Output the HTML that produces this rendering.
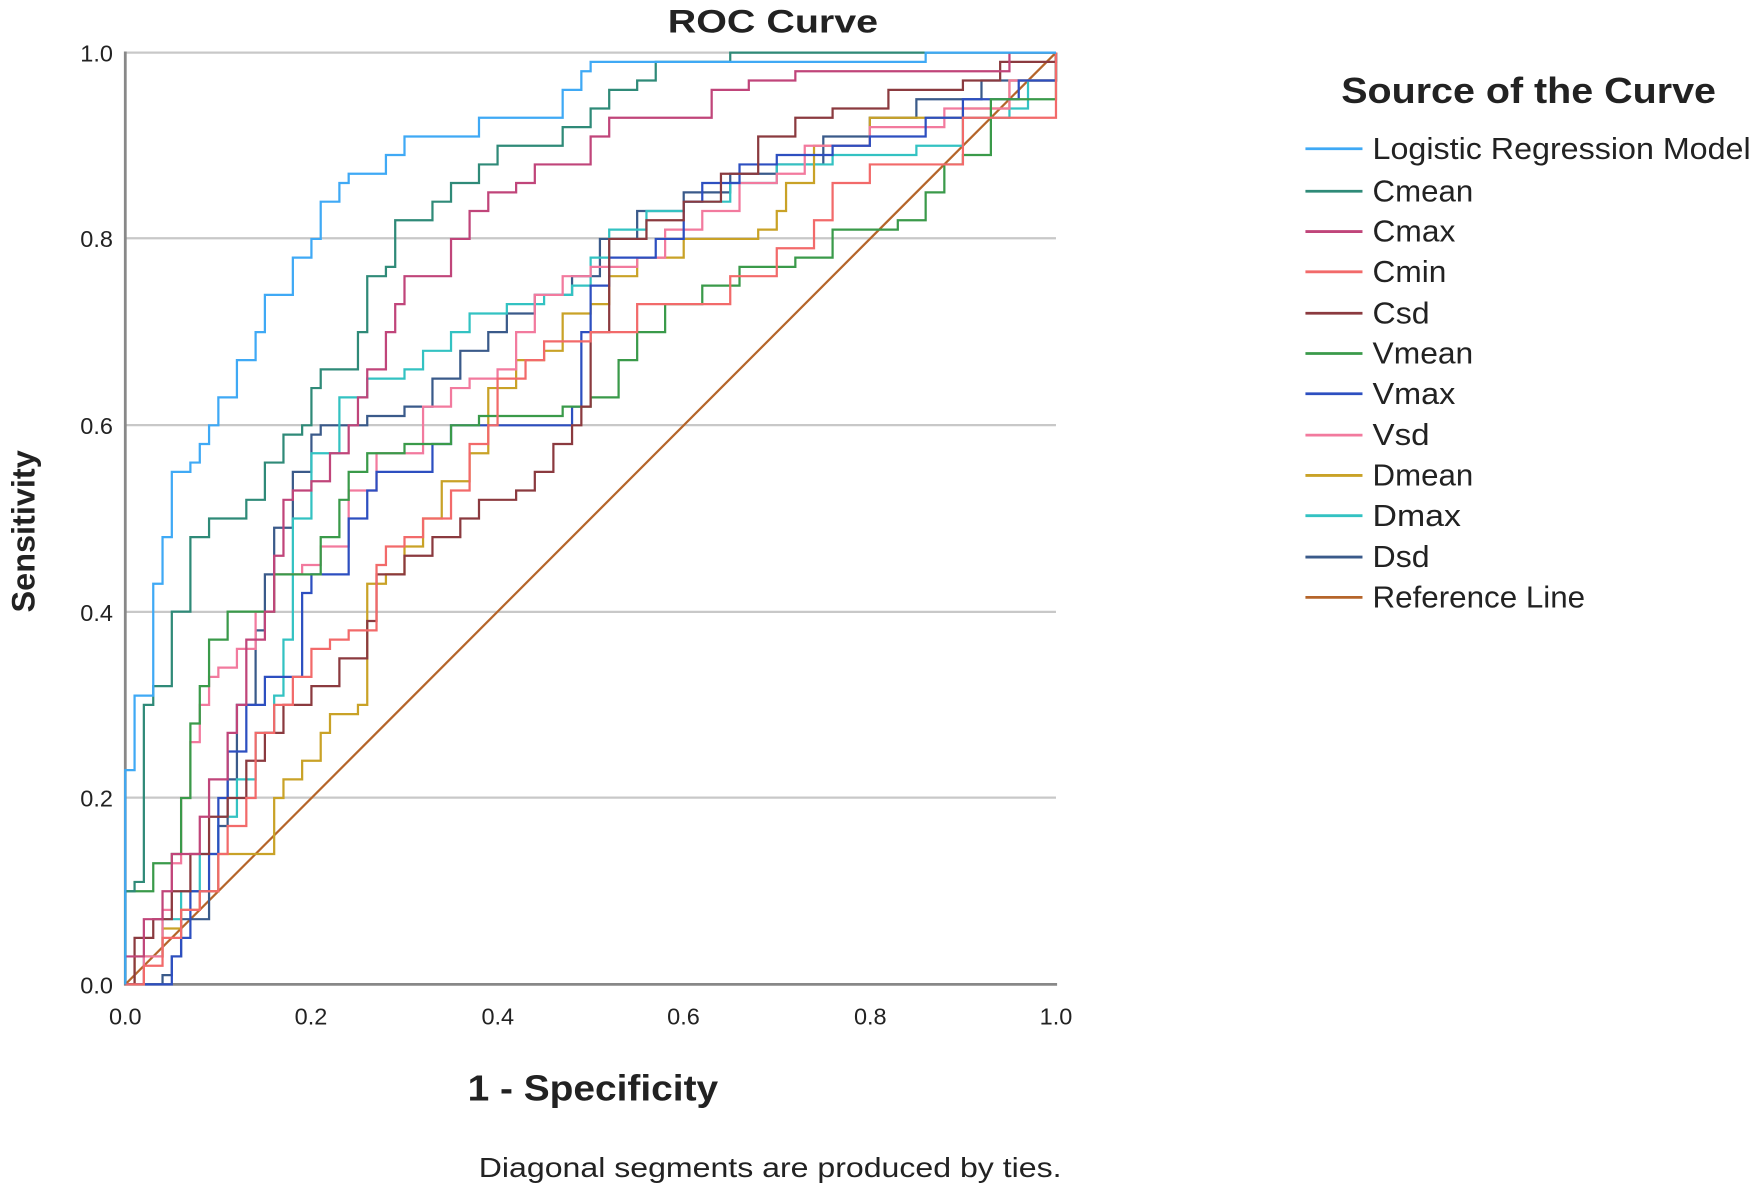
<!DOCTYPE html>
<html><head><meta charset="utf-8"><style>
html,body{margin:0;padding:0;background:#fff;}
svg{display:block;}
text{font-family:"Liberation Sans",Arial,sans-serif;fill:#222;}
</style></head><body>
<svg id="s" width="1754" height="1188" viewBox="0 0 1568 1062" preserveAspectRatio="none" xmlns="http://www.w3.org/2000/svg">
<rect width="1568" height="1062" fill="#fff"/>
<g stroke="#c8c8c8" stroke-width="2">
<line x1="112" y1="47" x2="944" y2="47"/>
<line x1="112" y1="213" x2="944" y2="213"/>
<line x1="112" y1="380" x2="944" y2="380"/>
<line x1="112" y1="547" x2="944" y2="547"/>
<line x1="112" y1="713" x2="944" y2="713"/>
</g>
<line x1="112" y1="46" x2="112" y2="881" stroke="#888" stroke-width="2.5"/>
<line x1="111" y1="880" x2="945" y2="880" stroke="#888" stroke-width="2.5"/>
<g font-size="21" text-anchor="end">
<text x="101" y="55">1.0</text><text x="101" y="221">0.8</text><text x="101" y="388">0.6</text>
<text x="101" y="555">0.4</text><text x="101" y="721">0.2</text><text x="101" y="888">0.0</text>
</g>
<g font-size="21" text-anchor="middle">
<text x="112" y="916">0.0</text><text x="278" y="916">0.2</text><text x="445" y="916">0.4</text>
<text x="611" y="916">0.6</text><text x="778" y="916">0.8</text><text x="944" y="916">1.0</text>
</g>
<text x="597" y="29" font-size="29" font-weight="bold" textLength="188" lengthAdjust="spacingAndGlyphs">ROC Curve</text>
<text x="418" y="984" font-size="32" font-weight="bold" textLength="224" lengthAdjust="spacingAndGlyphs">1 - Specificity</text>
<text transform="translate(31,475) rotate(-90)" font-size="29" font-weight="bold" text-anchor="middle">Sensitivity</text>
<text x="428" y="1052" font-size="25" textLength="521" lengthAdjust="spacingAndGlyphs">Diagonal segments are produced by ties.</text>
<text x="1199" y="92" font-size="32" font-weight="bold" textLength="335" lengthAdjust="spacingAndGlyphs">Source of the Curve</text>
<g id="curves" fill="none" stroke-width="2"></g>
<g id="legend" font-size="27"></g>
</svg>
<script>
var C=[
["Logistic Regression Model","#3fa9f5",[[0,0],[0,.23],[.01,.23],[.01,.31],[.03,.31],[.03,.43],[.04,.43],[.04,.48],[.05,.5],[.05,.55],[.07,.56],[.08,.58],[.09,.6],[.1,.63],[.12,.63],[.12,.67],[.14,.7],[.15,.74],[.17,.74],[.18,.78],[.2,.8],[.21,.84],[.23,.86],[.24,.87],[.27,.87],[.28,.89],[.29,.89],[.3,.91],[.36,.91],[.38,.93],[.45,.93],[.47,.96],[.49,.98],[.5,.99],[.86,.99],[.86,1],[1,1]]],
["Cmean","#2f8a78",[[0,0],[0,.1],[.01,.11],[.02,.3],[.03,.32],[.05,.33],[.05,.4],[.06,.4],[.07,.48],[.09,.48],[.09,.5],[.11,.5],[.13,.52],[.15,.56],[.17,.59],[.19,.6],[.2,.64],[.21,.66],[.23,.66],[.25,.7],[.26,.72],[.26,.76],[.28,.77],[.29,.82],[.32,.82],[.33,.84],[.35,.86],[.38,.88],[.4,.9],[.46,.9],[.47,.92],[.5,.94],[.52,.96],[.55,.97],[.57,.99],[.65,.99],[.65,1],[1,1]]],
["Cmax","#c0457a",[[0,0],[0,.03],[.01,.03],[.02,.07],[.04,.1],[.05,.14],[.07,.14],[.08,.18],[.09,.22],[.11,.27],[.12,.3],[.13,.37],[.15,.4],[.16,.46],[.17,.52],[.18,.53],[.2,.54],[.22,.57],[.24,.6],[.25,.63],[.26,.66],[.28,.7],[.29,.73],[.3,.76],[.34,.76],[.35,.8],[.37,.83],[.39,.85],[.42,.86],[.44,.88],[.48,.88],[.5,.91],[.52,.93],[.6,.93],[.63,.96],[.67,.97],[.72,.98],[.86,.98],[.95,1],[1,1]]],
["Cmin","#f26a6a",[[0,0],[.02,.02],[.04,.05],[.06,.08],[.08,.1],[.1,.14],[.11,.17],[.13,.2],[.14,.27],[.16,.3],[.18,.33],[.2,.36],[.22,.37],[.24,.38],[.26,.38],[.27,.45],[.28,.47],[.3,.48],[.32,.5],[.35,.53],[.37,.58],[.39,.6],[.4,.65],[.43,.67],[.45,.69],[.5,.7],[.55,.73],[.6,.73],[.65,.76],[.7,.79],[.74,.82],[.76,.86],[.8,.88],[.9,.93],[1,1]]],
["Csd","#8b3a3f",[[0,0],[.01,.05],[.03,.07],[.05,.1],[.07,.14],[.09,.18],[.11,.2],[.13,.24],[.15,.27],[.17,.3],[.2,.32],[.23,.35],[.26,.39],[.27,.44],[.3,.46],[.33,.48],[.36,.5],[.38,.52],[.42,.53],[.44,.55],[.46,.58],[.48,.6],[.49,.62],[.5,.7],[.52,.8],[.56,.82],[.6,.84],[.64,.87],[.68,.91],[.72,.93],[.76,.94],[.82,.96],[.9,.97],[.94,.99],[1,1]]],
["Vmean","#3a9a4a",[[0,0],[0,.1],[.02,.1],[.03,.13],[.05,.14],[.06,.2],[.07,.28],[.08,.32],[.09,.37],[.11,.4],[.15,.4],[.16,.44],[.2,.44],[.21,.48],[.23,.52],[.24,.55],[.26,.57],[.3,.58],[.33,.58],[.35,.6],[.38,.61],[.47,.62],[.5,.63],[.52,.63],[.53,.67],[.55,.7],[.58,.73],[.62,.75],[.66,.77],[.72,.78],[.76,.81],[.83,.82],[.86,.85],[.88,.88],[.9,.89],[.93,.95],[1,1]]],
["Vmax","#2d4fc0",[[0,0],[.04,0],[.05,.03],[.06,.05],[.07,.1],[.09,.14],[.1,.2],[.11,.25],[.13,.3],[.15,.33],[.18,.33],[.19,.42],[.2,.44],[.22,.44],[.24,.5],[.26,.53],[.27,.55],[.31,.55],[.33,.58],[.35,.6],[.46,.6],[.48,.62],[.49,.65],[.49,.7],[.5,.75],[.52,.78],[.57,.8],[.6,.84],[.62,.86],[.66,.88],[.7,.89],[.76,.9],[.8,.91],[.86,.93],[.9,.95],[.96,.97],[1,1]]],
["Vsd","#f27a9e",[[0,0],[.02,.03],[.04,.08],[.05,.13],[.06,.2],[.07,.26],[.08,.3],[.09,.33],[.1,.34],[.12,.36],[.14,.4],[.16,.44],[.19,.45],[.21,.47],[.24,.53],[.27,.57],[.31,.57],[.32,.62],[.35,.64],[.37,.65],[.4,.66],[.42,.7],[.44,.74],[.47,.76],[.5,.77],[.55,.78],[.58,.81],[.62,.83],[.66,.86],[.7,.87],[.73,.9],[.8,.92],[.88,.94],[.95,.97],[1,1]]],
["Dmean","#c9a227",[[0,0],[.01,.03],[.03,.03],[.04,.06],[.06,.08],[.08,.1],[.1,.14],[.15,.14],[.16,.2],[.17,.22],[.19,.24],[.21,.27],[.22,.29],[.25,.3],[.26,.43],[.28,.44],[.3,.47],[.32,.5],[.34,.54],[.37,.57],[.39,.6],[.39,.64],[.42,.67],[.45,.68],[.47,.72],[.5,.73],[.52,.76],[.55,.78],[.6,.8],[.68,.81],[.7,.83],[.71,.86],[.74,.9],[.8,.93],[.9,.94],[.95,.97],[1,1]]],
["Dmax","#33c2c2",[[0,0],[.02,.03],[.04,.07],[.06,.1],[.08,.14],[.1,.18],[.12,.22],[.14,.27],[.16,.31],[.17,.37],[.18,.5],[.19,.5],[.2,.57],[.23,.63],[.26,.65],[.3,.66],[.32,.68],[.35,.7],[.37,.72],[.41,.73],[.45,.74],[.48,.75],[.5,.78],[.52,.81],[.56,.83],[.6,.84],[.65,.86],[.7,.88],[.76,.89],[.85,.9],[.9,.93],[.95,.94],[.97,.97],[1,1]]],
["Dsd","#3a5a8a",[[0,0],[.04,.01],[.05,.03],[.06,.07],[.08,.07],[.09,.1],[.1,.17],[.11,.22],[.12,.3],[.14,.38],[.15,.44],[.16,.49],[.18,.55],[.2,.59],[.21,.6],[.26,.61],[.3,.62],[.33,.65],[.36,.68],[.39,.7],[.41,.72],[.44,.74],[.48,.76],[.51,.8],[.55,.83],[.6,.85],[.65,.87],[.7,.88],[.75,.91],[.8,.93],[.85,.95],[.92,.97],[1,1]]],
["Reference Line","#b5652a",[[0,0],[1,1]]]
];
var NS="http://www.w3.org/2000/svg",g=document.getElementById("curves"),L=document.getElementById("legend");
var order=[11,10,9,8,7,6,5,4,3,2,1,0];
order.forEach(function(i){var c=C[i];var pts=[];var p=c[2];
for(var k=0;k<p.length;k++){var x=112+832*p[k][0],y=880-833*p[k][1];
 if(k>0&&i!=11){var py=880-833*p[k-1][1];pts.push(x.toFixed(1)+","+py.toFixed(1));}
 pts.push(x.toFixed(1)+","+y.toFixed(1));}
var pl=document.createElementNS(NS,"polyline");pl.setAttribute("points",pts.join(" "));pl.setAttribute("stroke",c[1]);g.appendChild(pl);});
var ys=[133,171,207,243,280,316,352,389,425,461,498,534];
var tl=[338,90,74,66,51,90,74,51,90,79,51,190];
C.forEach(function(c,i){var l=document.createElementNS(NS,"line");l.setAttribute("x1",1167);l.setAttribute("x2",1218);l.setAttribute("y1",ys[i]);l.setAttribute("y2",ys[i]);l.setAttribute("stroke",c[1]);l.setAttribute("stroke-width",2.5);L.appendChild(l);
var t=document.createElementNS(NS,"text");t.setAttribute("x",1227);t.setAttribute("y",ys[i]+9);t.setAttribute("textLength",tl[i]);t.setAttribute("lengthAdjust","spacingAndGlyphs");t.textContent=c[0];L.appendChild(t);});
</script>
</body></html>
